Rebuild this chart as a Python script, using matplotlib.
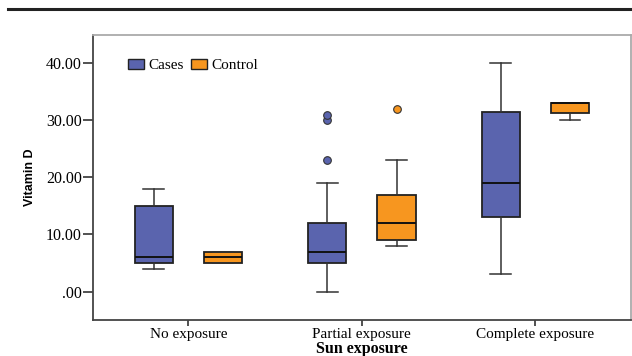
import matplotlib
matplotlib.use("Agg")
import matplotlib.pyplot as plt
from matplotlib.lines import Line2D
from matplotlib.patches import Patch

# box summaries per exposure group: whislo, q1, median, q3, whishi, outliers
groups = ["No exposure", "Partial exposure", "Complete exposure"]
cases_stats = [
    (4, 5, 6, 15, 18, []),
    (0, 5, 7, 12, 19, [23, 30, 31]),
    (3, 13, 19, 31.5, 40, []),
]
control_stats = [
    (5, 5, 6, 7, 7, []),
    (8, 9, 12, 17, 23, [32]),
    (30, 31.3, 33, 33, 33, []),
]
yticks = [0, 10, 20, 30, 40]
ytick_labels = [".00", "10.00", "20.00", "30.00", "40.00"]

cases_color = "#5a64ae"
control_color = "#f7961f"
serif = ["Liberation Serif", "DejaVu Serif"]


def to_bxp(stats):
    out = []
    for lo, q1, med, q3, hi, fl in stats:
        out.append(dict(whislo=lo, q1=q1, med=med, q3=q3, whishi=hi, fliers=fl))
    return out


fig = plt.figure(figsize=(6.32, 3.56), dpi=100)
ax = fig.add_axes([0.147, 0.101, 0.851, 0.801])

fig.add_artist(Line2D([0.013, 1.0], [0.976, 0.976], color="#222222", lw=2.2))

xs = range(len(groups))
for stats, shift, color in [(cases_stats, -0.2, cases_color), (control_stats, 0.2, control_color)]:
    ax.bxp(
        to_bxp(stats),
        positions=[x + shift for x in xs],
        widths=0.22,
        patch_artist=True,
        boxprops=dict(facecolor=color, edgecolor="#222222", linewidth=1.3),
        medianprops=dict(color="#111111", linewidth=1.4),
        whiskerprops=dict(color="#333333", linewidth=1.1),
        capprops=dict(color="#333333", linewidth=1.1),
        capwidths=0.12,
        flierprops=dict(marker="o", markerfacecolor=color, markeredgecolor="#333333",
                        markersize=5.5, markeredgewidth=0.8),
    )

ax.set_xlim(-0.55, 2.55)
ax.set_ylim(-5, 45)
ax.set_xticks(list(xs))
ax.set_xticklabels(groups, family=serif, fontsize=11)
ax.set_yticks(yticks)
ax.set_yticklabels(ytick_labels, family=serif, fontsize=11.5)
ax.tick_params(axis="y", direction="out", length=7, width=1.2, color="#333333", pad=1)
ax.tick_params(axis="x", direction="out", length=4.5, width=1.2, color="#333333", pad=1.5)

for side in ["left", "bottom"]:
    ax.spines[side].set_color("#444444")
    ax.spines[side].set_linewidth(1.3)
for side in ["top", "right"]:
    ax.spines[side].set_color("#aaaaaa")
    ax.spines[side].set_linewidth(1.3)

ax.set_ylabel("Vitamin D", family=["Liberation Sans Narrow", "Liberation Sans", "DejaVu Sans"],
              fontweight="bold", fontsize=9, labelpad=7)
ax.set_xlabel("Sun exposure", family=serif, fontweight="bold", fontsize=11.5, labelpad=0)

handles = [Patch(facecolor=cases_color, edgecolor="#222222", label="Cases"),
           Patch(facecolor=control_color, edgecolor="#222222", label="Control")]
ax.legend(handles=handles, loc="upper left", bbox_to_anchor=(0.04, 0.965), ncol=2,
          frameon=False, prop=dict(family=serif, size=11), handlelength=1.05,
          handleheight=0.7, handletextpad=0.25, columnspacing=0.5)

fig.savefig("out.png", dpi=100)
